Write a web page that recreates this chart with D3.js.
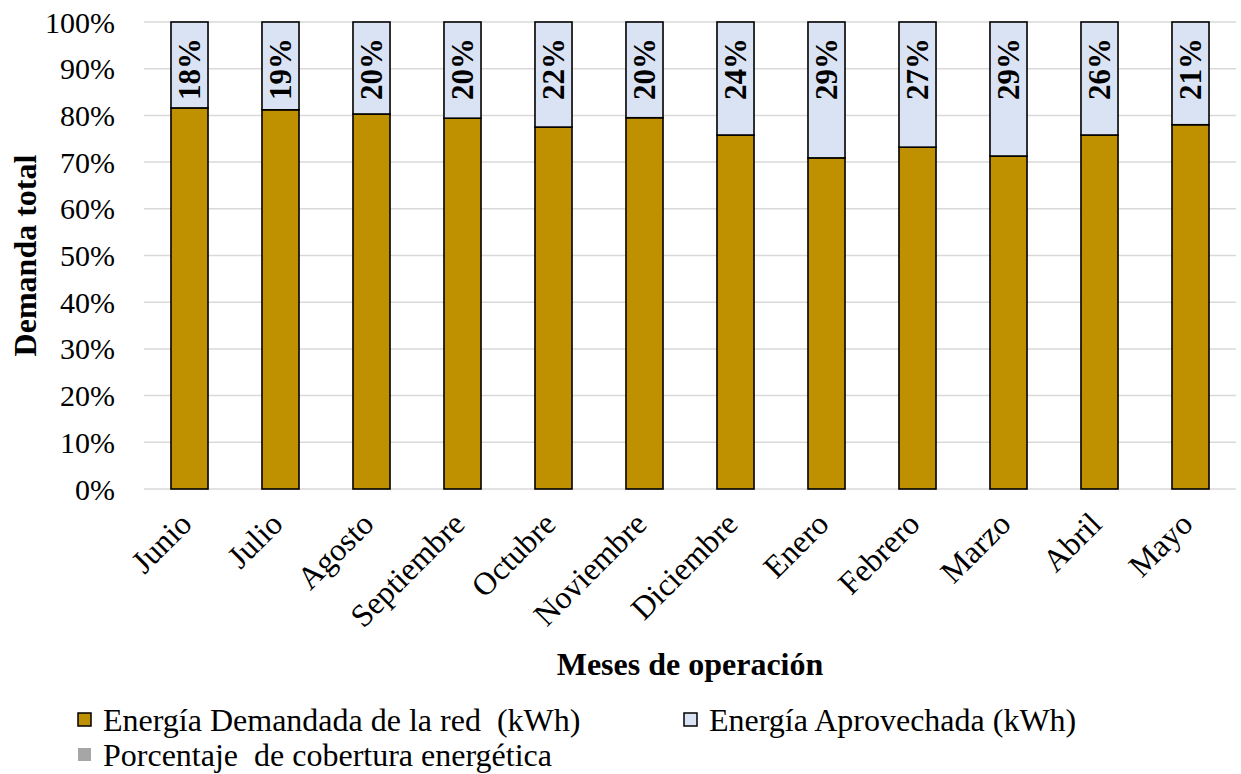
<!DOCTYPE html>
<html>
<head>
<meta charset="utf-8">
<script src="https://cdn.jsdelivr.net/npm/d3@7"></script>
<style>
  html, body { margin: 0; padding: 0; background: #fff; }
  svg { display: block; font-family: "Liberation Serif", "Times New Roman", serif; }
</style>
</head>
<body>
<svg id="chart" width="1241" height="774"></svg>
<script>
// Months of operation
const months = ["Junio", "Julio", "Agosto", "Septiembre", "Octubre", "Noviembre",
                "Diciembre", "Enero", "Febrero", "Marzo", "Abril", "Mayo"];

// Share of total demand supplied by the grid (%)
const demandaRed = [81.6, 81.2, 80.3, 79.4, 77.5, 79.5, 75.8, 70.9, 73.2, 71.3, 75.8, 78.0];

// Share of total demand covered by harvested energy (%)
const aprovechada = [18.4, 18.8, 19.7, 20.6, 22.5, 20.5, 24.2, 29.1, 26.8, 28.7, 24.2, 22.0];

// Energy coverage percentage, shown as labels
const cobertura = [18, 19, 20, 20, 22, 20, 24, 29, 27, 29, 26, 21];

// Y axis ticks (%)
const yTicks = [0, 10, 20, 30, 40, 50, 60, 70, 80, 90, 100];

const seriesNames = ["Energía Demandada de la red  (kWh)", "Energía Aprovechada (kWh)",
                     "Porcentaje  de cobertura energética"];
const colors = ["#BF9000", "#DAE3F3", "#A6A6A6"];

const svg = d3.select("#chart");
const plot = { left: 144, right: 1236, top: 22, bottom: 489 };

const x = d3.scaleBand()
  .domain(months)
  .range([plot.left, plot.right])
  .paddingInner(0.593)
  .paddingOuter(0.2965);

const y = d3.scaleLinear().domain([0, 100]).range([plot.bottom, plot.top]);

// Gridlines
svg.append("g")
  .selectAll("line")
  .data(yTicks)
  .join("line")
  .attr("x1", plot.left)
  .attr("x2", plot.right)
  .attr("y1", d => y(d))
  .attr("y2", d => y(d))
  .attr("stroke", "#d9d9d9")
  .attr("stroke-width", 1.5);

// Y tick labels
svg.append("g")
  .selectAll("text")
  .data(yTicks)
  .join("text")
  .attr("x", 115)
  .attr("y", d => y(d))
  .attr("dy", "0.35em")
  .attr("text-anchor", "end")
  .attr("font-size", 30)
  .attr("fill", "#000")
  .text(d => d + "%");

// Stacked bars
const rows = months.map((m, i) => ({ month: m, demanda: demandaRed[i], aprovechada: aprovechada[i] }));
const stack = d3.stack().keys(["demanda", "aprovechada"]);
const stacked = stack(rows);

svg.append("g")
  .selectAll("g")
  .data(stacked)
  .join("g")
  .attr("fill", (d, i) => colors[i])
  .selectAll("rect")
  .data(d => d)
  .join("rect")
  .attr("x", d => x(d.data.month))
  .attr("width", x.bandwidth())
  .attr("y", d => y(d[1]))
  .attr("height", d => y(d[0]) - y(d[1]))
  .attr("stroke", "#000")
  .attr("stroke-width", 1.6);

// Coverage labels, rotated, at the inside end of each bar
svg.append("g")
  .selectAll("text")
  .data(cobertura)
  .join("text")
  .attr("transform", (d, i) =>
    `translate(${x(months[i]) + x.bandwidth() / 2},${y(100) + 16}) rotate(-90)`)
  .attr("dy", "0.35em")
  .attr("text-anchor", "end")
  .attr("font-size", 31)
  .attr("font-weight", "bold")
  .attr("fill", "#000")
  .text(d => d + "%");

// X tick labels
svg.append("g")
  .selectAll("text")
  .data(months)
  .join("text")
  .attr("transform", d => `translate(${x(d) + x.bandwidth() / 2 + 4},526) rotate(-45)`)
  .attr("text-anchor", "end")
  .attr("font-size", 32)
  .attr("fill", "#000")
  .text(d => d);

// Axis titles
svg.append("text")
  .attr("transform", `translate(36,${(plot.top + plot.bottom) / 2}) rotate(-90)`)
  .attr("text-anchor", "middle")
  .attr("font-size", 32)
  .attr("font-weight", "bold")
  .text("Demanda total");

svg.append("text")
  .attr("x", (plot.left + plot.right) / 2)
  .attr("y", 675)
  .attr("text-anchor", "middle")
  .attr("font-size", 32)
  .attr("font-weight", "bold")
  .text("Meses de operación");

// Legend
const legendItems = [
  { name: seriesNames[0], color: colors[0], x: 78, y: 720, stroke: true },
  { name: seriesNames[1], color: colors[1], x: 684, y: 720, stroke: true },
  { name: seriesNames[2], color: colors[2], x: 78, y: 755, stroke: false }
];
const lg = svg.append("g").selectAll("g").data(legendItems).join("g")
  .attr("transform", d => `translate(${d.x},${d.y})`);
lg.append("rect")
  .attr("x", 0).attr("y", -7).attr("width", 13).attr("height", 13)
  .attr("fill", d => d.color)
  .attr("stroke", d => d.stroke ? "#000" : "none")
  .attr("stroke-width", 1.5);
lg.append("text")
  .attr("x", 25)
  .attr("dy", "0.35em")
  .attr("font-size", 32)
  .attr("fill", "#000")
  .style("white-space", "pre")
  .text(d => d.name);
</script>
</body>
</html>
